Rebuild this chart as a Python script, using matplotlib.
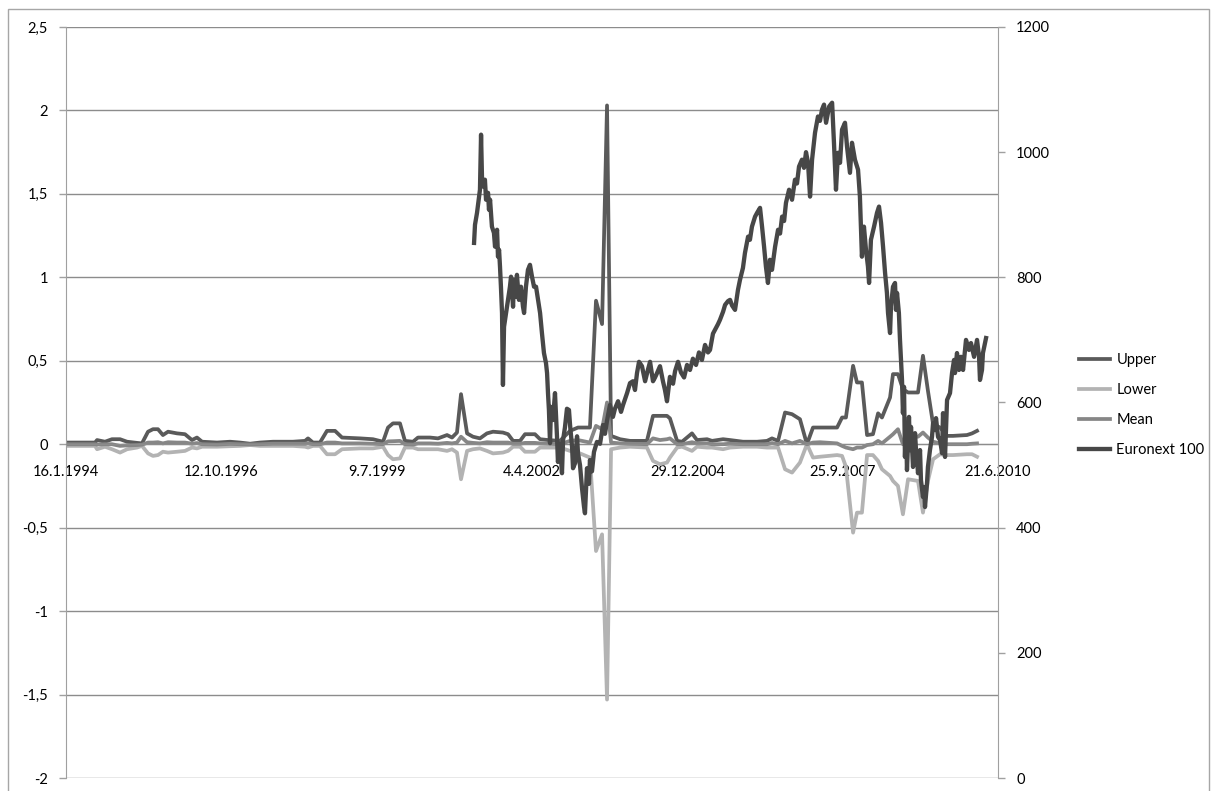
import matplotlib.pyplot as plt
from matplotlib.patches import Rectangle

# category axis: one category per calendar day from 16.1.1994
label_day = [0, 1000, 2000, 3000, 4000, 5000, 6000]
date_labels = ["16.1.1994", "12.10.1996", "9.7.1999", "4.4.2002",
               "29.12.2004", "25.9.2007", "21.6.2010"]

band_day = [0, 187, 200, 251, 296, 348, 393, 457, 489, 528,
            560, 592, 624, 657, 715, 766, 811, 843, 876, 972,
            1056, 1120, 1185, 1249, 1333, 1461, 1539, 1558, 1590, 1635,
            1680, 1732, 1777, 1893, 1976, 2041, 2073, 2105, 2150, 2182,
            2234, 2266, 2343, 2395, 2453, 2485, 2517, 2543, 2582, 2620,
            2665, 2710, 2749, 2813, 2846, 2878, 2923, 2955, 3019, 3052,
            3103, 3180, 3245, 3296, 3373, 3412, 3451, 3483, 3509, 3567,
            3631, 3740, 3779, 3824, 3869, 3888, 3934, 3966, 4030, 4062,
            4127, 4159, 4230, 4275, 4358, 4449, 4513, 4545, 4584, 4629,
            4674, 4725, 4770, 4809, 4854, 4964, 4996, 5021, 5067, 5092,
            5124, 5157, 5195, 5228, 5253, 5305, 5324, 5356, 5388, 5421,
            5485, 5517, 5549, 5582, 5627, 5672, 5710, 5800, 5833, 5865]

upper = [0.01, 0.01, 0.025, 0.015, 0.03, 0.03, 0.015, 0.008, 0.005, 0.075,
         0.09, 0.09, 0.055, 0.075, 0.065, 0.06, 0.025, 0.04, 0.015, 0.01,
         0.015, 0.01, 0.003, 0.01, 0.015, 0.015, 0.02, 0.035, 0.01, 0.01,
         0.08, 0.08, 0.04, 0.035, 0.03, 0.015, 0.1, 0.125, 0.125, 0.02,
         0.015, 0.04, 0.04, 0.035, 0.055, 0.04, 0.07, 0.30, 0.065, 0.045,
         0.035, 0.065, 0.075, 0.07, 0.06, 0.02, 0.02, 0.06, 0.06, 0.03,
         0.025, 0.02, 0.08, 0.1, 0.1, 0.86, 0.72, 2.03, 0.05, 0.03,
         0.02, 0.02, 0.17, 0.17, 0.17, 0.155, 0.02, 0.015, 0.065, 0.025,
         0.03, 0.02, 0.03, 0.025, 0.015, 0.015, 0.02, 0.035, 0.02, 0.19,
         0.18, 0.15, 0.0, 0.1, 0.1, 0.1, 0.16, 0.16, 0.47, 0.37,
         0.37, 0.055, 0.06, 0.185, 0.16, 0.28, 0.42, 0.42, 0.33, 0.31,
         0.31, 0.53, 0.32, 0.12, 0.1, 0.05, 0.05, 0.055, 0.065, 0.08]

lower = [-0.01, -0.01, -0.03, -0.015, -0.03, -0.05, -0.03, -0.02, -0.01, -0.055,
         -0.07, -0.065, -0.045, -0.05, -0.045, -0.04, -0.02, -0.025, -0.015, -0.015,
         -0.012, -0.01, -0.005, -0.01, -0.01, -0.01, -0.015, -0.02, -0.01, -0.01,
         -0.06, -0.06, -0.03, -0.025, -0.025, -0.015, -0.065, -0.09, -0.085, -0.02,
         -0.02, -0.03, -0.03, -0.03, -0.04, -0.03, -0.05, -0.21, -0.04, -0.03,
         -0.025, -0.04, -0.055, -0.05, -0.04, -0.015, -0.015, -0.045, -0.045, -0.02,
         -0.02, -0.02, -0.04, -0.05, -0.08, -0.64, -0.54, -1.53, -0.03, -0.02,
         -0.015, -0.02, -0.1, -0.12, -0.11, -0.08, -0.02, -0.015, -0.04, -0.015,
         -0.02, -0.02, -0.03, -0.02, -0.015, -0.015, -0.02, -0.02, -0.02, -0.15,
         -0.17, -0.11, 0.0, -0.08, -0.075, -0.065, -0.07, -0.135, -0.53, -0.41,
         -0.41, -0.065, -0.065, -0.1, -0.15, -0.19, -0.22, -0.25, -0.42, -0.21,
         -0.22, -0.41, -0.22, -0.09, -0.06, -0.065, -0.065, -0.06, -0.06, -0.075]

mean = [0.0, 0.0, -0.002, 0.0, 0.0, -0.01, -0.007, -0.005, -0.003, 0.01,
        0.01, 0.012, 0.005, 0.012, 0.01, 0.01, 0.003, 0.007, 0.0, -0.002,
        0.002, 0.0, -0.001, 0.0, 0.003, 0.003, 0.003, 0.007, 0.0, 0.0,
        0.01, 0.01, 0.005, 0.005, 0.003, 0.0, 0.017, 0.018, 0.02, 0.0,
        -0.002, 0.005, 0.005, 0.003, 0.008, 0.005, 0.01, 0.045, 0.012, 0.008,
        0.005, 0.012, 0.01, 0.01, 0.01, 0.003, 0.003, 0.008, 0.008, 0.005,
        0.003, 0.0, 0.02, 0.025, 0.01, 0.11, 0.09, 0.25, 0.01, 0.005,
        0.003, 0.0, 0.035, 0.025, 0.03, 0.035, 0.0, 0.0, 0.012, 0.005,
        0.005, 0.0, 0.0, 0.003, 0.0, 0.0, 0.0, 0.007, 0.0, 0.02,
        0.005, 0.02, 0.0, 0.01, 0.012, 0.005, -0.01, -0.02, -0.03, -0.02,
        -0.02, -0.005, 0.0, 0.02, 0.005, 0.045, 0.06, 0.09, 0.0, 0.045,
        0.045, 0.07, 0.04, 0.015, 0.005, 0.0, 0.0, 0.0, 0.003, 0.005]

euro_day = [2627, 2633, 2646, 2659, 2665, 2672, 2678, 2685, 2697, 2704,
            2717, 2723, 2730, 2742, 2755, 2762, 2775, 2781, 2788, 2794,
            2800, 2807, 2813, 2820, 2833, 2846, 2858, 2865, 2878, 2884,
            2897, 2903, 2916, 2929, 2942, 2949, 2961, 2974, 2987, 3000,
            3013, 3026, 3039, 3052, 3064, 3077, 3090, 3097, 3103, 3109,
            3116, 3122, 3129, 3135, 3148, 3161, 3167, 3180, 3193, 3200,
            3212, 3225, 3238, 3245, 3258, 3264, 3277, 3290, 3296, 3309,
            3322, 3335, 3341, 3354, 3367, 3373, 3386, 3399, 3418, 3438,
            3457, 3470, 3483, 3502, 3521, 3534, 3554, 3573, 3586, 3612,
            3631, 3650, 3663, 3676, 3689, 3708, 3728, 3747, 3760, 3779,
            3792, 3805, 3824, 3843, 3856, 3869, 3888, 3908, 3921, 3940,
            3959, 3979, 3998, 4017, 4036, 4056, 4075, 4094, 4114, 4133,
            4146, 4165, 4178, 4197, 4210, 4230, 4243, 4262, 4275, 4288,
            4307, 4326, 4339, 4358, 4371, 4391, 4403, 4416, 4436, 4449,
            4468, 4481, 4494, 4506, 4519, 4532, 4545, 4565, 4584, 4597,
            4610, 4623, 4635, 4655, 4674, 4693, 4706, 4719, 4738, 4751,
            4764, 4777, 4790, 4803, 4822, 4841, 4854, 4867, 4880, 4893,
            4913, 4932, 4944, 4957, 4970, 4983, 4996, 5015, 5028, 5047,
            5060, 5079, 5099, 5111, 5118, 5124, 5137, 5150, 5163, 5170,
            5182, 5202, 5221, 5234, 5247, 5260, 5273, 5285, 5292, 5305,
            5311, 5324, 5337, 5343, 5350, 5362, 5369, 5382, 5388, 5395,
            5401, 5408, 5414, 5427, 5433, 5440, 5453, 5466, 5472, 5479,
            5485, 5498, 5504, 5517, 5524, 5530, 5543, 5549, 5562, 5575,
            5582, 5594, 5601, 5614, 5627, 5640, 5646, 5659, 5672, 5691,
            5704, 5717, 5723, 5736, 5749, 5762, 5775, 5794, 5813, 5826,
            5846, 5865, 5878, 5884, 5897, 5903, 5916, 5923]

euro_val = [855, 884, 903, 929, 940, 1028, 960, 945, 956, 924,
            935, 908, 924, 881, 871, 849, 876, 833, 844, 817,
            785, 743, 628, 721, 743, 764, 785, 801, 753, 796,
            769, 804, 764, 785, 753, 743, 785, 812, 820, 801,
            785, 785, 764, 743, 711, 679, 663, 647, 615, 588,
            535, 593, 588, 572, 615, 545, 505, 534, 487, 540,
            560, 590, 588, 564, 529, 495, 503, 546, 519, 500,
            463, 433, 423, 495, 470, 508, 490, 521, 537, 534,
            564, 550, 571, 596, 577, 590, 602, 585, 596, 615,
            631, 634, 620, 647, 665, 658, 634, 653, 665, 634,
            640, 647, 658, 634, 620, 602, 641, 630, 650, 665,
            648, 640, 660, 652, 670, 660, 680, 668, 692, 680,
            684, 710, 716, 725, 732, 745, 756, 762, 764, 755,
            748, 780, 796, 815, 839, 865, 860, 881, 897, 903,
            911, 881, 849, 817, 791, 828, 812, 849, 876, 870,
            897, 890, 919, 940, 924, 956, 950, 977, 988, 975,
            1000, 983, 929, 988, 1031, 1057, 1050, 1068, 1076, 1047,
            1073, 1079, 1015, 940, 999, 983, 1036, 1047, 1009, 967,
            1015, 988, 972, 929, 876, 833, 881, 844, 817, 791,
            860, 881, 903, 913, 887, 849, 807, 775, 743, 711,
            753, 785, 791, 748, 775, 743, 700, 636, 583, 625,
            513, 567, 492, 577, 524, 561, 497, 551, 524, 508,
            487, 524, 476, 449, 465, 433, 471, 497, 524, 545,
            567, 556, 575, 545, 540, 519, 583, 513, 604, 615,
            647, 668, 647, 679, 652, 673, 652, 700, 684, 695,
            673, 700, 673, 636, 652, 679, 695, 703]

left_ticks = [-2, -1.5, -1, -0.5, 0, 0.5, 1, 1.5, 2, 2.5]
right_ticks = [0, 200, 400, 600, 800, 1000, 1200]

plt.rcParams['font.family'] = ['Lato', 'DejaVu Sans']

W, H = 1212, 791
fig = plt.figure(figsize=(W / 100, H / 100), dpi=100)
fig.patches.append(Rectangle((8 / W, -0.02), (1209 - 8) / W, (H - 9) / H + 0.02,
                             transform=fig.transFigure, fill=False,
                             edgecolor='#a6a6a6', linewidth=1.0))

ax = fig.add_axes([66 / W, 13 / H, 932 / W, 751 / H])
grid_c = '#8c8c8c'
axis_c = '#a0a0a0'

lw = 2.7
ax.plot(band_day, upper, color='#5a5a5a', lw=lw, label='Upper', solid_joinstyle='round')
ax.plot(band_day, lower, color='#b3b3b3', lw=lw, label='Lower', solid_joinstyle='round')
ax.plot(band_day, mean, color='#868686', lw=lw, label='Mean', solid_joinstyle='round')

ax.set_xlim(0, 6000)
ax.set_ylim(-2, 2.5)
ax.set_yticks(left_ticks)
ax.set_yticklabels([f"{v:g}".replace('.', ',') for v in left_ticks])
ax.yaxis.grid(True, color=grid_c, lw=1.0)
ax.set_axisbelow(True)
ax.tick_params(axis='y', length=5, width=1, color=axis_c, pad=8, labelsize=10.5)

ax.spines['bottom'].set_position(('data', 0))
ax.spines['bottom'].set_color(grid_c)
ax.spines['left'].set_color(axis_c)
ax.spines['top'].set_visible(False)
ax.spines['right'].set_visible(False)
ax.set_xticks(label_day)
ax.set_xticklabels(date_labels)
ax.tick_params(axis='x', length=0, pad=15, labelsize=10.5)

ax2 = ax.twinx()
ax2.plot(euro_day, euro_val, color='#474747', lw=3.1, label='Euronext 100',
         solid_joinstyle='round')
ax2.set_ylim(0, 1200)
ax2.set_yticks(right_ticks)
ax2.set_yticklabels([str(v) for v in right_ticks])
ax2.tick_params(axis='y', length=5, width=1, color=axis_c, pad=8, labelsize=10.5)
for s in ['top', 'bottom', 'left']:
    ax2.spines[s].set_visible(False)
ax2.spines['right'].set_color(axis_c)

h1, l1 = ax.get_legend_handles_labels()
h2, l2 = ax2.get_legend_handles_labels()
fig.legend(h1 + h2, l1 + l2, loc='upper left',
           bbox_to_anchor=(1072 / W, 1 - 346 / H), frameon=False,
           fontsize=10.5, borderpad=0, handlelength=2.1, handletextpad=0.45,
           labelspacing=1.1)

fig.savefig('out.png', dpi=100)
